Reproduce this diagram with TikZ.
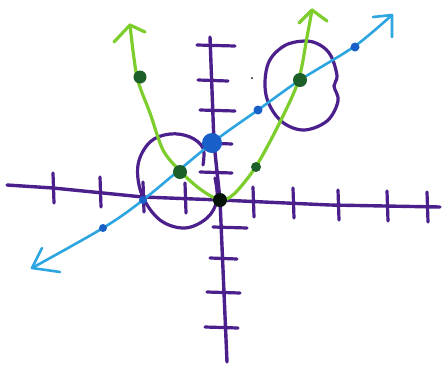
\documentclass[tikz,border=0pt]{standalone}
\begin{document}
\definecolor{axpurple}{RGB}{75,32,140}
\definecolor{pargreen}{RGB}{125,205,45}
\definecolor{dotgreen}{RGB}{28,95,40}
\definecolor{linblue}{RGB}{45,165,225}
\definecolor{dotblue}{RGB}{25,95,200}
\begin{tikzpicture}[x=1pt,y=-1pt,line cap=round,line join=round,
  axisline/.style={draw=axpurple,line width=3.4pt},
  tickmark/.style={draw=axpurple,line width=3.2pt},
  ring/.style={draw=axpurple,line width=3.2pt},
  parab/.style={draw=pargreen,line width=3.2pt},
  blueline/.style={draw=linblue,line width=2.6pt},
  gdot/.style={circle,fill=dotgreen,inner sep=0pt},
  bdot/.style={circle,fill=dotblue,inner sep=0pt}]
\useasboundingbox (0,0) rectangle (444,365);
\fill[white] (0,0) rectangle (444,365);
% axes
\draw[axisline] (7,185) -- (53,188) -- (143,197) -- (220,200) -- (330,205) -- (440,207);
\draw[axisline] (210,37) -- (214,143) -- (220,200) -- (227,362);
% x ticks
\foreach \x/\y in {53/188,100/192,143/197,185/198,253/202,293/203,338/205,387/206,427/207}
  \draw[tickmark] (\x,\y-15) -- (\x+1,\y+15);
% y ticks
\foreach \y/\a/\b in {45/197/235,80/198/228,110/200/235,143/205/232,172/200/232,227/213/247,258/210/237,292/207/240,327/205/238}
  \draw[tickmark] (\a,\y) -- (\b,\y+1);
% circles
\draw[ring] plot[smooth,tension=0.6] coordinates {(203,165) (203,148) (190,137) (170,134) (150,142) (138,165) (142,195) (160,220) (185,228) (207,218) (217,200) (215,178)};
\draw[ring] plot[smooth cycle,tension=0.6] coordinates {(305,41) (284,46) (268,64) (266,95) (280,120) (303,130) (327,121) (338,101) (334,86) (337,76) (331,56) (320,45)};
% blue line
\draw[blueline] plot[smooth,tension=0.5] coordinates {(32,268) (103,228) (143,200) (212,143) (258,110) (300,80) (355,46) (392,15)};
\draw[blueline] (373,17) -- (392,15) -- (392,37);
\draw[blueline] (42,248) -- (32,268) -- (60,272);
% parabola
\draw[parab] plot[smooth,tension=0.5] coordinates {(130,25) (137,77) (150,113) (163,150) (180,171) (200,189) (220,200) (234,194) (255,168) (277,128) (298,82) (307,37) (312,10)};
\draw[parab] (114,42) -- (130,25) -- (145,32);
\draw[parab] (299,23) -- (312,10) -- (327,21);
% dots
\node[gdot,minimum size=13pt] (p1) at (140,77) {};
\node[gdot,minimum size=14pt] (p2) at (180,172) {};
\node[circle,fill=black!80!dotgreen,inner sep=0pt,minimum size=14pt] (p0) at (220,200) {};
\node[gdot,minimum size=10pt] (p3) at (256,167) {};
\node[gdot,minimum size=14pt] (p4) at (300,80) {};
\node[bdot,minimum size=20pt] (b0) at (212,143) {};
\node[bdot,minimum size=8pt] (b1) at (103,228) {};
\node[bdot,minimum size=8pt] (b2) at (143,200) {};
\node[bdot,minimum size=9pt] (b3) at (258,110) {};
\node[bdot,minimum size=9pt] (b4) at (355,47) {};
\node[circle,fill=black!70,inner sep=0pt,minimum size=2.5pt] (sp) at (252,78) {};
\end{tikzpicture}
\end{document}
